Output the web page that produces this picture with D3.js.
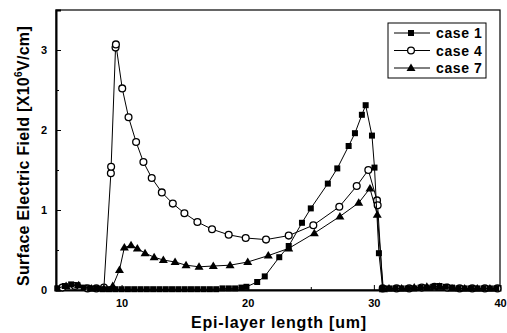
<!DOCTYPE html>
<html>
<head>
<meta charset="utf-8">
<script src="https://cdn.jsdelivr.net/npm/d3@7"></script>
<style>
  body { margin: 0; background: #fff; }
  text { font-family: "Liberation Sans", Arial, sans-serif; font-weight: bold; }
</style>
</head>
<body>
<div id="chart"></div>
<script>
// case 1 (filled squares)
const case1X = [4.9, 5.5, 6, 6.5, 7, 7.5, 8, 8.5, 9, 9.5, 10, 10.5, 11, 11.5, 12, 12.5, 13, 13.5, 14, 14.5, 15, 15.5, 16, 16.5, 17, 17.5, 18, 18.5, 19, 19.5, 19.9, 20.75, 21.35, 22.5, 23.25, 24.3, 25.0, 26.35, 27.1, 28.0, 28.5, 29.05, 29.35, 29.85, 30.05, 30.4, 30.7, 31.2, 31.7, 32.2, 32.7, 33.2, 33.7, 34.2, 34.7, 35.2, 35.7, 36.2, 36.7, 37.2, 37.7, 38.2, 38.7, 39.2, 39.7];
const case1Y = [0.02, 0.05, 0.07, 0.06, 0.03, 0.02, 0.02, 0.01, 0.01, 0.01, 0.01, 0.01, 0.01, 0.01, 0.01, 0.01, 0.01, 0.01, 0.01, 0.01, 0.01, 0.01, 0.01, 0.01, 0.01, 0.01, 0.02, 0.02, 0.02, 0.03, 0.04, 0.10, 0.17, 0.41, 0.55, 0.84, 1.02, 1.33, 1.52, 1.80, 1.96, 2.19, 2.31, 1.93, 1.53, 0.46, 0.02, 0.02, 0.02, 0.02, 0.02, 0.02, 0.03, 0.03, 0.04, 0.05, 0.04, 0.03, 0.02, 0.02, 0.02, 0.02, 0.02, 0.02, 0.02];
// case 4 (open circles)
const case4X = [5.3, 6.3, 7.3, 8.0, 8.6, 9.15, 9.17, 9.52, 9.55, 10.05, 10.55, 11.15, 11.73, 12.39, 13.19, 14.06, 14.98, 16.01, 17.17, 18.49, 19.84, 21.45, 23.25, 25.2, 27.26, 28.64, 29.56, 30.25, 30.3, 30.7, 31.8, 32.8, 33.8, 34.8, 35.8, 36.8, 37.8, 38.8, 39.8];
const case4Y = [0.03, 0.05, 0.02, 0.02, 0.03, 1.46, 1.54, 3.03, 3.07, 2.52, 2.16, 1.85, 1.60, 1.40, 1.22, 1.08, 0.96, 0.85, 0.76, 0.69, 0.65, 0.63, 0.68, 0.81, 1.04, 1.30, 1.50, 1.12, 1.06, 0.02, 0.02, 0.02, 0.03, 0.04, 0.03, 0.02, 0.02, 0.02, 0.02];
// case 7 (filled triangles)
const case7X = [5.6, 6.6, 7.6, 8.6, 9.3, 9.83, 10.22, 10.75, 11.25, 11.86, 12.58, 13.31, 14.24, 15.11, 16.14, 17.27, 18.6, 20.0, 21.63, 23.25, 25.28, 27.31, 28.8, 29.69, 30.27, 30.75, 31.2, 32.2, 33.2, 34.2, 35.2, 36.2, 37.2, 38.2, 39.2];
const case7Y = [0.05, 0.06, 0.02, 0.02, 0.05, 0.25, 0.53, 0.56, 0.52, 0.46, 0.41, 0.375, 0.35, 0.31, 0.29, 0.30, 0.31, 0.35, 0.43, 0.52, 0.71, 0.92, 1.09, 1.27, 0.94, 0.01, 0.02, 0.02, 0.03, 0.04, 0.04, 0.02, 0.02, 0.02, 0.02];

const xTicks = [10, 20, 30, 40];
const yTicks = [0, 1, 2, 3];
const seriesNames = ["case 1", "case 4", "case 7"];

const width = 507, height = 333;
const margin = { top: 10, right: 7, bottom: 43, left: 56 };

const svg = d3.select("#chart")
    .append("svg")
    .attr("width", width)
    .attr("height", height);

const xScale = d3.scaleLinear()
    .domain([4.8, 40])
    .range([margin.left, width - margin.right]);

const yScale = d3.scaleLinear()
    .domain([0, 3.5])
    .range([height - margin.bottom, margin.top]);

const plotW = width - margin.left - margin.right;
const plotH = height - margin.top - margin.bottom;

// frame
svg.append("rect")
    .attr("x", margin.left)
    .attr("y", margin.top)
    .attr("width", plotW)
    .attr("height", plotH)
    .attr("fill", "none")
    .attr("stroke", "#000")
    .attr("stroke-width", 1.2);

// x axis (ticks inward)
const xAxis = svg.append("g")
    .attr("transform", `translate(0,${height - margin.bottom})`)
    .call(d3.axisBottom(xScale).tickValues(xTicks).tickSize(-5).tickPadding(9).tickFormat(d3.format("d")));
xAxis.select(".domain").attr("stroke-width", 2);
xAxis.selectAll("text").style("font-size", "11px");

svg.append("g")
    .attr("transform", `translate(0,${height - margin.bottom})`)
    .call(d3.axisBottom(xScale).tickValues([15, 25, 35]).tickSize(-3).tickFormat(""))
    .select(".domain").remove();

// y axis (ticks inward)
const yAxis = svg.append("g")
    .attr("transform", `translate(${margin.left},0)`)
    .call(d3.axisLeft(yScale).tickValues(yTicks).tickSize(-5).tickPadding(9).tickFormat(d3.format("d")));
yAxis.select(".domain").attr("stroke-width", 2);
yAxis.selectAll("text").style("font-size", "11px");

svg.append("g")
    .attr("transform", `translate(${margin.left},0)`)
    .call(d3.axisLeft(yScale).tickValues([0.5, 1.5, 2.5]).tickSize(-3).tickFormat(""))
    .select(".domain").remove();

const line = d3.line().x(d => xScale(d.x)).y(d => yScale(d.y));

const series = [
    { name: seriesNames[0], xs: case1X, ys: case1Y, sym: "square" },
    { name: seriesNames[1], xs: case4X, ys: case4Y, sym: "circle" },
    { name: seriesNames[2], xs: case7X, ys: case7Y, sym: "triangle" }
];

function drawMarker(g, sym, cx, cy) {
    if (sym === "square") {
        g.append("rect").attr("x", cx - 3).attr("y", cy - 3)
            .attr("width", 6).attr("height", 6).attr("fill", "#000");
    } else if (sym === "circle") {
        g.append("circle").attr("cx", cx).attr("cy", cy).attr("r", 3.4)
            .attr("fill", "#fff").attr("stroke", "#000").attr("stroke-width", 1.3);
    } else {
        g.append("path")
            .attr("d", `M${cx},${cy - 4.5}L${cx + 4.5},${cy + 3}L${cx - 4.5},${cy + 3}Z`)
            .attr("fill", "#000");
    }
}

// draw circles first so the filled markers cover the baseline band
[series[1], series[2], series[0]].forEach(s => {
    const pts = s.xs.map((d, i) => ({ x: d, y: s.ys[i] }));
    svg.append("path")
        .datum(pts)
        .attr("d", line)
        .attr("fill", "none")
        .attr("stroke", "#000")
        .attr("stroke-width", 1);
    const g = svg.append("g");
    pts.forEach(p => drawMarker(g, s.sym, xScale(p.x), yScale(p.y)));
});

// legend
const lg = svg.append("g");
lg.append("rect")
    .attr("x", 388).attr("y", 23)
    .attr("width", 98).attr("height", 55)
    .attr("fill", "#fff")
    .attr("stroke", "#000")
    .attr("stroke-width", 1);
series.forEach((s, i) => {
    const ly = 33 + i * 17.5;
    lg.append("line")
        .attr("x1", 394).attr("x2", 430)
        .attr("y1", ly).attr("y2", ly)
        .attr("stroke", "#000").attr("stroke-width", 1);
    drawMarker(lg, s.sym, 411, ly);
    lg.append("text")
        .attr("x", 436).attr("y", ly + 5)
        .style("font-size", "14px")
        .style("letter-spacing", "0.6px")
        .text(s.name);
});

// x label
svg.append("text")
    .attr("x", 279)
    .attr("y", 328)
    .attr("text-anchor", "middle")
    .style("font-size", "16px")
    .style("letter-spacing", "0.8px")
    .text("Epi-layer length [um]");

// y label
const yl = svg.append("text")
    .attr("transform", "rotate(-90)")
    .attr("x", -156)
    .attr("y", 29)
    .attr("text-anchor", "middle")
    .style("font-size", "16px")
    .style("letter-spacing", "0.3px");
yl.append("tspan").text("Surface Electric Field [X10");
yl.append("tspan").attr("dy", -7).style("font-size", "10px").text("6");
yl.append("tspan").attr("dy", 7).text("V/cm]");
</script>
</body>
</html>
